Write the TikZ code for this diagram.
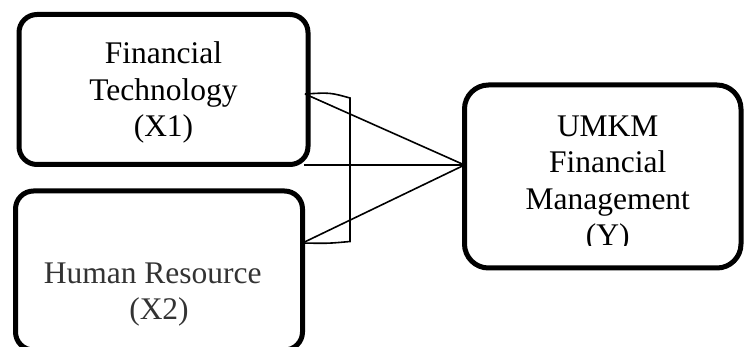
\documentclass[tikz,border=0pt]{standalone}
\usepackage{fontspec}
\setmainfont{Liberation Serif}
\usepackage{tikz}

\begin{document}
\begin{tikzpicture}[
    x=1pt, y=-1pt,
    box/.style={draw, line width=5pt, outer sep=0pt, inner sep=0pt},
    txt/.style={align=center, inner sep=0pt, font=\fontsize{31.5}{36.5}\selectfont},
    link/.style={line width=1.6pt}
  ]
    \useasboundingbox (0,0) rectangle (744,347);

    \node[box, rounded corners=18pt, minimum width=289pt, minimum height=150pt] (fintech) at (163.5,89.5) {};
    \node[txt] (fintechtext) at ([yshift=-3pt]fintech.center) {Financial\\Technology\\(X1)};
    \node[box, rounded corners=18pt, minimum width=287pt, minimum height=159pt] (hr) at (159,270.5) {};
    \node[txt, text=black!80] (hrtext) at ([yshift=-24pt]hr.center) {Human Resource\hspace*{0.4em}\\(X2)};
    \node[box, rounded corners=24pt, minimum width=276.5pt, minimum height=183pt] (umkm) at (602.75,176.5) {};
    \begin{scope}
      \clip (464,95) rectangle (741,245.5);
      \node[txt] (umkmtext) at ([xshift=5pt,yshift=-7.5pt]umkm.center) {UMKM\\Financial\\Management\\(Y)};
    \end{scope}

    \coordinate (meet) at ([yshift=11.5pt]umkm.west);
    \coordinate (ftout) at ([xshift=-3pt,yshift=-4.5pt]fintech.east);
    \coordinate (hrout) at ([yshift=27.5pt]hr.east);
    \coordinate (brtop) at (350,98);
    \coordinate (brbot) at (350,241.5);

    \draw[link] (ftout) -- (meet);
    \draw[link] ([xshift=-4pt]meet -| fintech.east) -- (meet);
    \draw[link] (hrout) -- (meet);
    \draw[link] (ftout) .. controls +(25,-1.5) .. (brtop) -- (brbot) .. controls +(-22,2) .. (hrout);
  \end{tikzpicture}
\end{document}
